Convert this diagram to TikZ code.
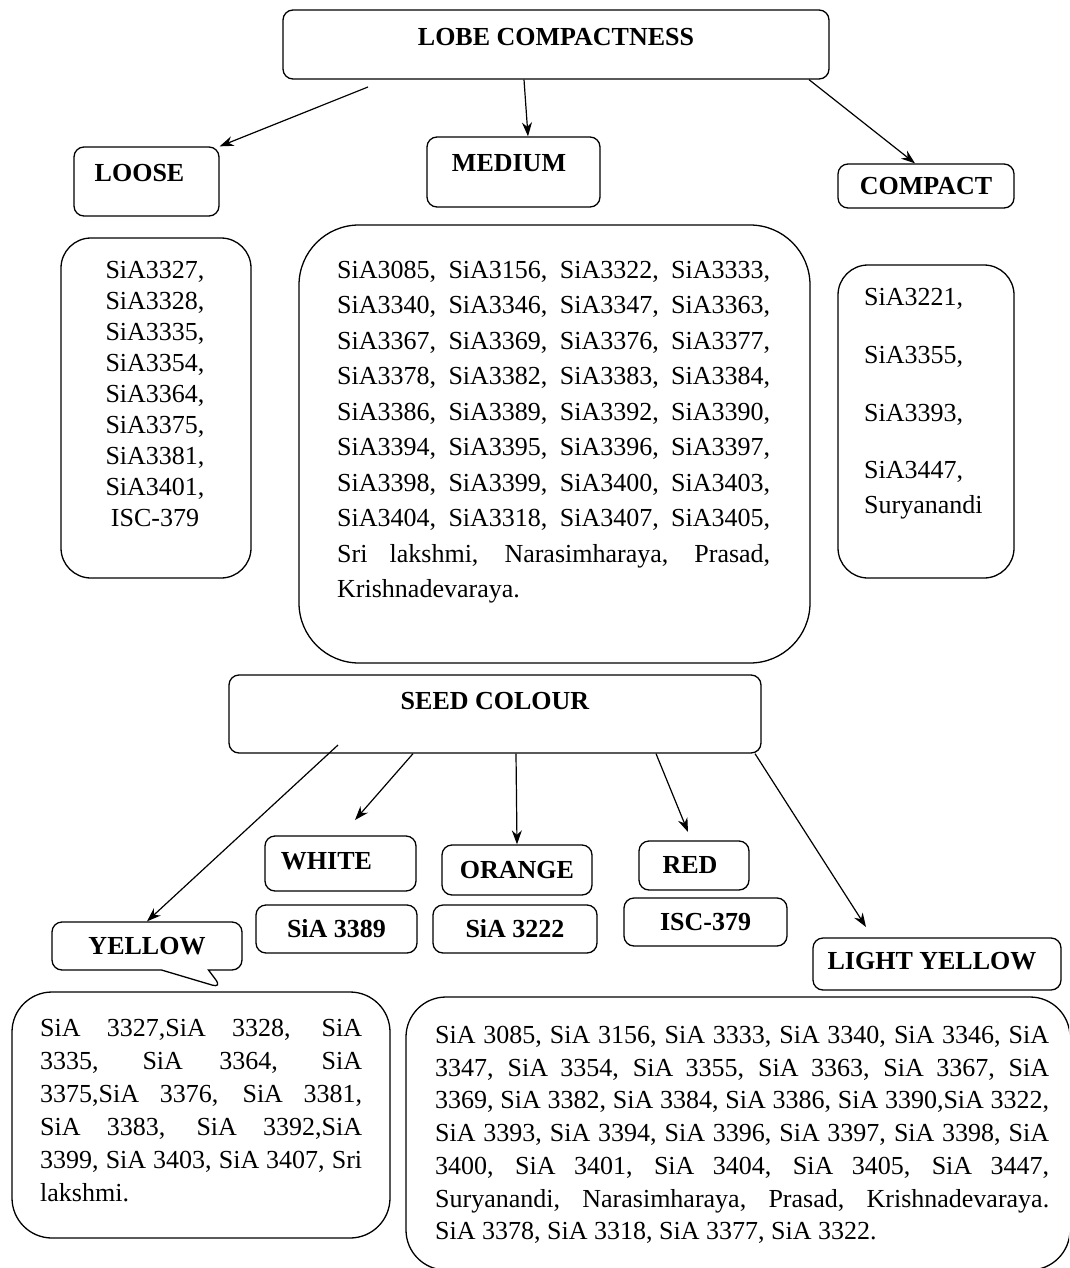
\documentclass[tikz,border=0pt]{standalone}
\usepackage{fontspec}
\setmainfont{Liberation Serif}
\usetikzlibrary{shapes.callouts,arrows.meta}

\begin{document}
\begin{tikzpicture}[x=1pt,y=-1pt]
        % Define styles
        \tikzset{
            head/.style={draw, rounded corners=10pt, line width=1.3pt, inner sep=0pt, font=\fontsize{26}{31}\selectfont\bfseries},
            listbox/.style={draw, rounded corners=#1, line width=1.3pt, inner sep=0pt},
            listtext/.style={inner sep=0pt, font=\fontsize{26}{#1}\selectfont},
            arrow/.style={->,>={Stealth[length=14pt,width=10pt]}, line width=1.2pt}
        }
        \useasboundingbox (0,0) rectangle (1069,1268);
        \clip (0,0) rectangle (1069,1268);

        % Lobe compactness
        \node[head, minimum width=546pt, minimum height=69pt] (lobe) at (556,44.5) {\raisebox{7.5pt}[\height][\depth]{LOBE COMPACTNESS}};
        \node[head, minimum width=145pt, minimum height=69pt] (loose) at (146.5,181.5) {\raisebox{8pt}[\height][\depth]{LOOSE}\hspace*{14pt}};
        \node[head, minimum width=173pt, minimum height=70pt] (medium) at (513.5,172) {\raisebox{9pt}[\height][\depth]{MEDIUM}\hspace*{9pt}};
        \node[head, minimum width=176pt, minimum height=44pt] (compact) at (926,186) {COMPACT};

        \node[listbox=30pt, minimum width=190pt, minimum height=340pt] (loosebox) at (156,408) {};
        \node[listtext=31, align=center, anchor=north] (looselist) at (155,261) {SiA3327,\\SiA3328,\\SiA3335,\\SiA3354,\\SiA3364,\\SiA3375,\\SiA3381,\\SiA3401,\\ISC-379};

        \node[listbox=60pt, minimum width=511pt, minimum height=438pt] (mediumbox) at (554.5,444) {};
        \node[listtext=35.5, text width=433pt, align=justify, anchor=north west] (mediumlist) at (337,261) {SiA3085, SiA3156, SiA3322, SiA3333,\linebreak
            SiA3340, SiA3346, SiA3347, SiA3363,\linebreak
            SiA3367, SiA3369, SiA3376, SiA3377,\linebreak
            SiA3378, SiA3382, SiA3383, SiA3384,\linebreak
            SiA3386, SiA3389, SiA3392, SiA3390,\linebreak
            SiA3394, SiA3395, SiA3396, SiA3397,\linebreak
            SiA3398, SiA3399, SiA3400, SiA3403,\linebreak
            SiA3404, SiA3318, SiA3407, SiA3405,\linebreak
            Sri lakshmi, Narasimharaya, Prasad,\linebreak
            Krishnadevaraya.};

        \node[listbox=30pt, minimum width=176pt, minimum height=313pt] (compactbox) at (926,421.5) {};
        \node[listtext=35, align=left, anchor=north west] (compactlist) at (864,288) {SiA3221,\\[23pt]SiA3355,\\[23pt]SiA3393,\\[22pt]SiA3447,\\Suryanandi};

        % Seed colour
        \node[head, minimum width=532pt, minimum height=78pt] (seed) at (495,714) {\raisebox{13pt}[\height][\depth]{SEED COLOUR}};
        \node[head, minimum width=151pt, minimum height=55pt] (white) at (340.5,863.5) {\raisebox{2.5pt}[\height][\depth]{WHITE}\hspace*{28pt}};
        \node[head, minimum width=150pt, minimum height=50pt] (orange) at (517,870) {ORANGE};
        \node[head, minimum width=110pt, minimum height=49pt] (red) at (694,865.5) {RED\hspace*{8pt}};
        \node[head, minimum width=161pt, minimum height=48pt] (sia3389) at (336.5,929) {SiA 3389};
        \node[head, minimum width=164pt, minimum height=48pt] (sia3222) at (515,929) {SiA 3222};
        \node[head, minimum width=163pt, minimum height=48pt] (isc379) at (705.5,922) {ISC-379};
        \node[head, minimum width=248pt, minimum height=52pt] (lightyellow) at (937,964) {\raisebox{3pt}[\height][\depth]{LIGHT YELLOW}\hspace*{10pt}};
        \node[head, rectangle callout, callout absolute pointer={(222,988)}, callout pointer width=47pt, minimum width=190pt, minimum height=48pt] (yellow) at (147,946) {YELLOW};

        \node[listbox=40pt, minimum width=378pt, minimum height=246pt] (yellowbox) at (201,1115) {};
        \node[listtext=33, text width=322pt, align=justify, anchor=north west] (yellowlist) at (40,1019) {SiA 3327,SiA 3328, SiA\linebreak
            3335, SiA 3364, SiA\linebreak
            3375,SiA 3376, SiA 3381,\linebreak
            SiA 3383, SiA 3392,SiA\linebreak
            3399, SiA 3403, SiA 3407, Sri\linebreak
            lakshmi.};

        \node[listbox=40pt, minimum width=664pt, minimum height=273pt] (lightbox) at (738,1133.5) {};
        \node[listtext=32.7, text width=614pt, align=justify, anchor=north west] (lightlist) at (435,1026) {SiA 3085, SiA 3156, SiA 3333, SiA 3340, SiA 3346, SiA\linebreak
            3347, SiA 3354, SiA 3355, SiA 3363, SiA 3367, SiA\linebreak
            3369, SiA 3382, SiA 3384, SiA 3386, SiA 3390,SiA 3322,\linebreak
            SiA 3393, SiA 3394, SiA 3396, SiA 3397, SiA 3398, SiA\linebreak
            3400, SiA 3401, SiA 3404, SiA 3405, SiA 3447,\linebreak
            Suryanandi, Narasimharaya, Prasad, Krishnadevaraya.\linebreak
            SiA 3378, SiA 3318, SiA 3377, SiA 3322.};

        % Arrows
        \coordinate (lobe-tail) at (368,87);
        \coordinate (seed-tail) at (338,745);
        \coordinate (white-tip) at (355,820);
        \coordinate (red-tip) at (688,832);
        \coordinate (lightyellow-tip) at (866,927);

        \draw[arrow] (lobe-tail) -- (loose.north east);
        \draw[arrow] ([xshift=-32pt]lobe.south) -- ([xshift=14.5pt]medium.north);
        \draw[arrow] ([xshift=253pt]lobe.south) -- ([xshift=-11pt]compact.north);
        \draw[arrow] (seed-tail) -- (yellow.north);
        \draw[arrow] ([xshift=-82pt]seed.south) -- (white-tip);
        \draw[arrow] ([xshift=21pt]seed.south) -- (orange.north);
        \draw[arrow] ([xshift=161pt]seed.south) -- (red-tip);
        \draw[arrow] ([xshift=260pt]seed.south) -- (lightyellow-tip);
    \end{tikzpicture}
\end{document}
